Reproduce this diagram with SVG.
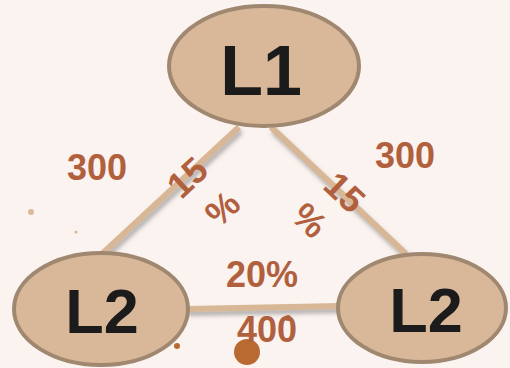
<svg xmlns="http://www.w3.org/2000/svg" width="510" height="368" viewBox="0 0 510 368">
<defs>
<filter id="sh" x="-20%" y="-20%" width="140%" height="140%">
<feDropShadow dx="2" dy="4" stdDeviation="2" flood-color="#7a7a7a" flood-opacity="0.55"/>
</filter>
</defs>
<style>
.edge{stroke:#d8b796;stroke-width:6;fill:none;stroke-linecap:butt}
.node{fill:#d9b899;stroke:#a08770;stroke-width:4}
.nl{font-family:"Liberation Sans",Arial,sans-serif;font-weight:bold;fill:#1b1b1b;text-anchor:middle}
.num{font-family:"Liberation Sans",Arial,sans-serif;font-weight:bold;fill:#b1603e;text-anchor:middle;font-size:36px}
</style>
<rect width="510" height="368" fill="#fbf3f0"/>
<g id="connectors" filter="url(#sh)">
<line class="edge" x1="239" y1="127" x2="103" y2="253"/>
<line class="edge" x1="271" y1="127" x2="406" y2="254"/>
<line class="edge" x1="186" y1="309" x2="341" y2="306"/>
</g>
<g id="dots">
<circle cx="31" cy="212" r="3" fill="#dcb999"/>
<circle cx="76" cy="232" r="1.6" fill="#dcb999"/>
<circle cx="177" cy="346" r="3" fill="#b86a30"/>
<circle cx="247" cy="352" r="13" fill="#b86a30"/>
<circle cx="288" cy="318" r="3" fill="#b86a30"/>
</g>
<g id="L1">
<ellipse class="node" cx="264" cy="66" rx="95" ry="60"/>
<text class="nl" x="261" y="95" font-size="70">L1</text>
</g>
<g id="L2left">
<ellipse class="node" cx="101" cy="309" rx="87" ry="56"/>
<text class="nl" x="102" y="333" font-size="63">L2</text>
</g>
<g id="L2right">
<ellipse class="node" cx="422" cy="308" rx="84" ry="54"/>
<text class="nl" x="426" y="332" font-size="63">L2</text>
</g>
<g id="labels">
<text class="num" x="97" y="180">300</text>
<text class="num" x="405" y="168">300</text>
<text class="num" x="262" y="287">20%</text>
<text class="num" x="267" y="342">400</text>
<text class="num" transform="translate(187,177) rotate(-43)" y="13">15</text>
<text class="num" transform="translate(222,208) rotate(-43)" y="13">%</text>
<text class="num" transform="translate(345,192) rotate(43)" y="13">15</text>
<text class="num" transform="translate(310,220) rotate(43)" y="13">%</text>
</g>
</svg>
